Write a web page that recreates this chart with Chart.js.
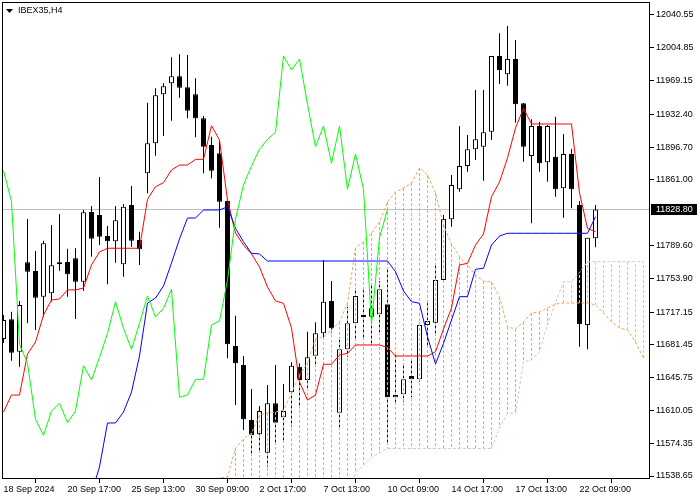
<!DOCTYPE html>
<html>
<head>
<meta charset="utf-8">
<script src="https://cdn.jsdelivr.net/npm/chart.js@4.4.1/dist/chart.umd.min.js"></script>
<style>
  body { margin: 0; background: #fff; }
  canvas { display: block; }
</style>
</head>
<body>
<canvas id="myChart" width="700" height="500"></canvas>
<script>
const FONT = { family: 'Liberation Sans', size: 9 };

// time axis: bar index of each label
const tickBars = [0, 8, 16, 24, 32, 40, 48, 56, 64, 72];
const tickLabels = ['18 Sep 2024', '20 Sep 17:00', '25 Sep 13:00', '30 Sep 09:00', '2 Oct 17:00',
    '7 Oct 13:00', '10 Oct 09:00', '14 Oct 17:00', '17 Oct 13:00', '22 Oct 09:00'];
const priceTicks = [12040.55, 12004.85, 11969.15, 11932.40, 11896.70, 11861.00, 11789.60,
    11753.90, 11717.15, 11681.45, 11645.75, 11610.05, 11574.35, 11538.65];
const lastPrice = 11828.80;

// IBEX35 H4 candles, 18 Sep 09:00 .. 22 Oct 17:00
const opens = [11687.8, 11709.3, 11674.0, 11771.3, 11761.9, 11733.9, 11737.6, 11769.2, 11771.7, 11775.7,
    11750.2, 11826.1, 11822.8, 11800.0, 11794.2, 11769.2, 11833.7, 11795.6, 11868.2, 11900.9,
    11954.2, 11966.2, 11973.8, 11961.9, 11954.2, 11928.1, 11899.0, 11890.0, 11838.1, 11680.2,
    11659.5, 11599.6, 11584.1, 11564.1, 11617.8, 11602.6, 11629.8, 11657.7, 11643.2, 11669.7,
    11694.0, 11729.2, 11607.6, 11676.6, 11704.9, 11714.0, 11712.1, 11714.7, 11725.6, 11624.4,
    11627.6, 11647.5, 11643.9, 11703.1, 11705.6, 11752.1, 11818.1, 11850.8, 11876.2, 11894.4,
    11897.2, 11913.5, 11995.9, 11976.0, 11992.7, 11944.4, 11887.1, 11919.7, 11880.2, 11886.3,
    11851.9, 11889.2, 11833.7, 11703.1, 11797.5];
const highs = [11714.0, 11717.6, 11729.2, 11818.5, 11783.6, 11794.9, 11811.9, 11823.9, 11786.1, 11786.5,
    11828.3, 11832.6, 11864.2, 11810.8, 11832.6, 11834.8, 11854.4, 11804.7, 11945.1, 11960.8,
    11966.2, 11994.5, 11997.8, 11997.0, 11971.7, 11930.6, 11908.1, 11903.4, 11839.9, 11713.2,
    11669.3, 11633.4, 11614.9, 11637.8, 11659.5, 11638.8, 11662.5, 11661.4, 11695.8, 11706.0,
    11773.8, 11751.0, 11688.6, 11723.0, 11741.2, 11741.0, 11746.6, 11751.0, 11764.8, 11672.3,
    11660.3, 11665.0, 11705.6, 11726.7, 11770.2, 11822.8, 11866.4, 11919.7, 11909.9, 11958.9,
    11958.9, 11995.9, 12020.6, 12028.6, 12013.4, 11944.4, 11927.0, 11924.4, 11920.8, 11929.8,
    11911.0, 11894.7, 11838.1, 11798.1, 11833.7];
const lows = [11683.5, 11664.2, 11657.7, 11704.9, 11697.6, 11712.1, 11728.5, 11762.2, 11733.9, 11709.6,
    11740.4, 11777.4, 11790.2, 11747.4, 11770.9, 11755.7, 11788.3, 11768.4, 11846.5, 11887.4,
    11908.8, 11925.5, 11950.5, 11928.1, 11907.4, 11868.2, 11862.8, 11809.0, 11666.8, 11616.0,
    11588.8, 11563.4, 11566.0, 11548.8, 11574.9, 11577.9, 11592.4, 11612.4, 11634.2, 11657.7,
    11686.7, 11694.0, 11588.8, 11668.6, 11686.7, 11687.0, 11683.2, 11694.0, 11574.3, 11617.8,
    11619.6, 11624.4, 11641.3, 11681.3, 11692.2, 11749.1, 11810.1, 11848.2, 11870.0, 11882.7,
    11860.2, 11904.5, 11965.5, 11963.6, 11923.3, 11880.9, 11813.8, 11870.0, 11859.1, 11842.8,
    11819.9, 11830.1, 11679.5, 11676.6, 11787.7];
const closes = [11708.5, 11672.9, 11724.8, 11761.1, 11732.8, 11792.0, 11768.1, 11771.3, 11758.3, 11750.2,
    11825.8, 11797.0, 11799.2, 11794.2, 11817.1, 11831.9, 11794.9, 11785.5, 11900.9, 11953.1,
    11962.9, 11973.8, 11961.4, 11936.4, 11928.1, 11897.2, 11871.1, 11837.3, 11682.1, 11661.4,
    11600.4, 11583.0, 11609.4, 11617.8, 11596.7, 11609.4, 11658.8, 11643.2, 11667.9, 11694.0,
    11728.4, 11699.5, 11676.6, 11704.9, 11734.6, 11711.8, 11721.2, 11741.9, 11624.4, 11626.9,
    11643.9, 11643.9, 11703.1, 11707.4, 11752.1, 11818.5, 11855.5, 11876.2, 11894.4, 11905.2,
    11912.9, 11995.9, 11980.7, 11992.7, 11943.3, 11897.2, 11919.7, 11879.1, 11919.7, 11850.8,
    11889.2, 11850.8, 11703.8, 11798.1, 11828.8];

// ichimoku lines
const tenkan = [11608.3, 11626.8, 11626.8, 11671.5, 11684.5, 11713.9, 11730.3, 11731.4, 11741.2, 11741.2,
    11743.3, 11768.4, 11782.5, 11786.6, 11786.6, 11786.6, 11786.6, 11786.6, 11839.9, 11853.6,
    11858.0, 11871.8, 11877.2, 11877.2, 11883.4, 11883.4, 11920.0, 11904.5, 11839.1, 11803.2,
    11790.1, 11780.4, 11766.2, 11744.4, 11729.2, 11726.7, 11699.8, 11641.0, 11621.4, 11626.8,
    11660.3, 11660.3, 11670.4, 11672.2, 11681.3, 11681.3, 11681.3, 11681.3, 11678.6, 11669.3,
    11669.3, 11669.3, 11669.3, 11669.3, 11674.0, 11698.7, 11721.6, 11768.4, 11770.2, 11790.1,
    11802.1, 11842.7, 11858.7, 11884.9, 11917.5, 11939.0, 11921.9, 11921.9, 11921.9, 11921.9,
    11921.9, 11921.9, 11846.8, 11808.3, 11804.6];
const kijunStart = 11;
const kijun = [11520.0, 11548.5, 11596.4, 11596.4, 11608.3, 11630.1, 11669.3, 11727.0, 11732.4, 11745.5,
    11770.5, 11796.7, 11819.5, 11819.5, 11828.3, 11828.3, 11828.3, 11831.8, 11808.3, 11793.7,
    11781.1, 11780.4, 11772.7, 11772.7, 11772.7, 11772.7, 11772.7, 11772.7, 11772.7, 11772.7,
    11772.7, 11772.7, 11772.7, 11772.7, 11772.7, 11772.7, 11772.7, 11772.7, 11761.1, 11740.1,
    11728.4, 11726.7, 11690.3, 11660.6, 11683.1, 11708.5, 11733.9, 11733.9, 11763.7, 11764.8,
    11790.1, 11799.9, 11802.9, 11802.9, 11802.9, 11802.9, 11802.9, 11802.9, 11802.9, 11802.9,
    11802.9, 11802.9, 11802.9, 11820.9];
const chikou = [11871.1, 11837.3, 11682.1, 11661.4, 11600.4, 11583.0, 11609.4, 11617.8, 11596.7, 11609.4,
    11658.8, 11643.2, 11667.9, 11694.0, 11728.4, 11699.5, 11676.6, 11704.9, 11734.6, 11711.8,
    11721.2, 11741.9, 11624.4, 11626.9, 11643.9, 11643.9, 11703.1, 11707.4, 11752.1, 11818.5,
    11855.5, 11876.2, 11894.4, 11905.2, 11912.9, 11995.9, 11980.7, 11992.7, 11943.3, 11897.2,
    11919.7, 11879.1, 11919.7, 11850.8, 11889.2, 11850.8, 11703.8, 11798.1, 11828.8];
const spanStart = 26;
const spanA = [11534.3, 11536.5, 11537.6, 11569.1, 11578.9, 11585.5, 11605.1, 11607.3, 11608.3, 11610.5,
    11629.0, 11648.6, 11662.0, 11688.0, 11690.0, 11698.0, 11706.3, 11727.0, 11786.9, 11793.4,
    11803.2, 11815.2, 11837.0, 11847.9, 11852.2, 11857.6, 11874.0, 11866.4, 11846.8, 11811.9,
    11791.2, 11777.1, 11768.4, 11757.5, 11750.9, 11749.9, 11733.5, 11700.9, 11698.7, 11706.3,
    11716.1, 11717.2, 11721.6, 11725.9, 11727.0, 11727.0, 11727.0, 11727.0, 11724.8, 11716.1,
    11706.3, 11699.8, 11697.6, 11684.5, 11667.1];
const spanB = [11495, 11495, 11495, 11495, 11495, 11495, 11495, 11495, 11495, 11495,
    11495, 11495, 11495, 11495, 11495, 11495, 11495, 11522.0, 11541.9, 11550.6,
    11559.3, 11563.7, 11568.6, 11568.6, 11568.6, 11568.6, 11568.6, 11568.6, 11568.6, 11568.6,
    11568.6, 11568.6, 11568.6, 11568.6, 11568.6, 11568.6, 11590.9, 11606.9, 11606.9, 11663.1,
    11665.0, 11674.0, 11703.0, 11727.0, 11750.2, 11750.2, 11760.2, 11772.0, 11772.0, 11772.0,
    11772.0, 11772.0, 11772.0, 11772.0, 11772.0];

const toPoints = (arr, start) => arr.map((v, i) => ({ x: start + i, y: v }));
const wicks = highs.map((h, i) => ({ x: i, y: [lows[i], h] }));
const bodies = opens.map((o, i) => ({ x: i, y: [Math.min(o, closes[i]), Math.max(o, closes[i])] }));
const bodyColors = opens.map((o, i) => closes[i] < o ? '#000000' : '#ffffff');

const lineDs = (label, data, color, dash) => ({
    type: 'line',
    label: label,
    data: data,
    borderColor: color,
    borderWidth: 1,
    borderDash: dash || [],
    pointRadius: 0,
    tension: 0,
    fill: false,
});

const mt4 = {
    id: 'mt4',
    beforeDatasetsDraw(chart) {
        const { ctx, chartArea: a, scales: { y } } = chart;
        const py = Math.round(y.getPixelForValue(lastPrice)) + 0.5;
        ctx.save();
        ctx.strokeStyle = '#c0c0c0';
        ctx.lineWidth = 1;
        ctx.beginPath();
        ctx.moveTo(a.left, py);
        ctx.lineTo(a.right, py);
        ctx.stroke();
        ctx.restore();
    },
    beforeDatasetDraw(chart, args) {
        if (args.index !== 4) return;
        // cloud hatching, one dotted stroke per bar
        const { ctx, chartArea: a, scales: { x, y } } = chart;
        ctx.save();
        ctx.beginPath();
        ctx.rect(a.left, a.top, a.right - a.left, a.bottom - a.top);
        ctx.clip();
        ctx.lineWidth = 1;
        ctx.setLineDash([3, 2]);
        spanA.forEach((va, i) => {
            const vb = spanB[i];
            const px = x.getPixelForValue(spanStart + i);
            ctx.strokeStyle = va >= vb ? '#f4a460' : '#d8bfd8';
            ctx.beginPath();
            ctx.moveTo(px, y.getPixelForValue(va));
            ctx.lineTo(px, y.getPixelForValue(vb));
            ctx.stroke();
        });
        ctx.restore();
    },
    afterDraw(chart) {
        const { ctx, chartArea: a, scales: { y } } = chart;
        ctx.save();
        ctx.strokeStyle = '#000';
        ctx.lineWidth = 1;
        ctx.strokeRect(a.left + 0.5, a.top + 0.5, a.right - a.left - 1, a.bottom - a.top - 1);
        // title
        ctx.fillStyle = '#000';
        ctx.beginPath();
        ctx.moveTo(6, 9);
        ctx.lineTo(13, 9);
        ctx.lineTo(9.5, 13);
        ctx.closePath();
        ctx.fill();
        ctx.font = '9px "Liberation Sans"';
        ctx.textBaseline = 'middle';
        ctx.fillText('IBEX35,H4', 18, 11);
        // current price box
        const py = Math.round(y.getPixelForValue(lastPrice));
        ctx.fillRect(a.right + 1, py - 5, 46, 11);
        ctx.fillStyle = '#fff';
        ctx.fillText(lastPrice.toFixed(2), a.right + 6, py + 0.5);
        ctx.restore();
    },
};

const ctx = document.getElementById('myChart');

chart = new Chart(ctx, {
    type: 'bar',
    data: {
        datasets: [
            lineDs('Chikou', toPoints(chikou, 0), '#00ff00'),
            lineDs('Kijun', toPoints(kijun, kijunStart), '#0000ff'),
            lineDs('Tenkan', toPoints(tenkan, 0), '#ff0000'),
            lineDs('Senkou A', toPoints(spanA, spanStart), '#f4a460', [3, 2]),
            lineDs('Senkou B', toPoints(spanB, spanStart), '#d8bfd8', [3, 2]),
            {
                label: 'Body',
                data: bodies,
                backgroundColor: bodyColors,
                borderColor: '#000000',
                borderWidth: 1,
                borderSkipped: false,
                barThickness: 5,
                minBarLength: 1,
                inflateAmount: 0,
                grouped: false,
            },
            {
                label: 'Wick',
                data: wicks,
                backgroundColor: '#000000',
                borderWidth: 0,
                barThickness: 1,
                inflateAmount: 0,
                grouped: false,
            },
        ],
    },
    options: {
        responsive: false,
        animation: false,
        devicePixelRatio: 1,
        layout: { padding: { left: 2, top: 2, right: 0, bottom: 0 } },
        plugins: {
            legend: { display: false },
            tooltip: { enabled: false },
        },
        scales: {
            x: {
                type: 'linear',
                offset: false,
                min: -0.1875,
                max: 80.8125,
                grid: { drawOnChartArea: false, drawTicks: true, tickLength: 4, color: '#000' },
                border: { display: false },
                ticks: {
                    font: FONT,
                    color: '#000',
                    align: 'start',
                    padding: 1,
                    autoSkip: false,
                    maxRotation: 0,
                    callback: (v) => tickLabels[tickBars.indexOf(v)],
                },
                afterBuildTicks: (s) => { s.ticks = tickBars.map(v => ({ value: v })); },
                afterFit: (s) => {
                    s.height = 21;
                    s.paddingLeft = 0;
                    s.paddingRight = 0;
                },
            },
            y: {
                position: 'right',
                min: 11535.39,
                max: 12054.70,
                grid: { drawOnChartArea: false, drawTicks: true, tickLength: 4, color: '#000' },
                border: { display: false },
                ticks: {
                    font: FONT,
                    color: '#000',
                    padding: 2,
                    callback: (v) => v.toFixed(2),
                },
                afterBuildTicks: (s) => { s.ticks = priceTicks.map(v => ({ value: v })); },
                afterFit: (s) => {
                    s.width = 50;
                    s.paddingTop = 0;
                    s.paddingBottom = 0;
                },
            },
        },
    },
    plugins: [mt4],
});
</script>
</body>
</html>
